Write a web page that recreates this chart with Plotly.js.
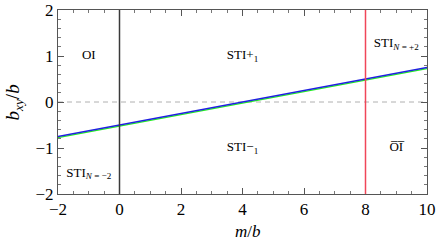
<!DOCTYPE html>
<html>
<head>
<meta charset="utf-8">
<script src="https://cdn.plot.ly/plotly-3.0.1.min.js"></script>
<style>html,body{margin:0;padding:0;background:#fff;}#chart{width:436px;height:246px;}</style>
</head>
<body>
<div id="chart"></div>
<script>
// Data
const mValues = [-2, 10];
const bxyBlue = [-0.75, 0.75];
const bxyGreen = [-0.775, 0.725];
const boundaryM = [0, 8];
const boundaryColors = ['#3a3a3a', '#f04658'];
const labelText = ['OI', 'STI+<sub>1</sub>', 'STI<sub><i>N</i> = +2</sub>', 'STI−<sub>1</sub>', 'O̅I̅', 'STI<sub><i>N</i> = −2</sub>'];
const labelM = [-1, 4, 9, 4, 9, -1];
const labelB = [1, 1, 1.27, -1, -1, -1.55];
const xTicks = [-2, 0, 2, 4, 6, 8, 10];
const xTickText = ['−2', '0', '2', '4', '6', '8', '10'];
const yTicks = [-2, -1, 0, 1, 2];
const yTickText = ['−2', '−1', '0', '1', '2'];
const xTitle = '<i>m</i>/<i>b</i>';
const yTitle = '<i>b<sub>xy</sub></i>/<i>b</i>';

const serif = 'Liberation Serif';
const traces = [
  {x: mValues, y: bxyGreen, mode: 'lines', line: {color: '#22ee22', width: 1.4}, hoverinfo: 'skip'},
  {x: mValues, y: bxyBlue, mode: 'lines', line: {color: '#2020e0', width: 1.4}, hoverinfo: 'skip'},
  {x: labelM, y: labelB, mode: 'text', text: labelText, textposition: 'middle center',
   textfont: {family: serif, size: 13, color: '#000'}, hoverinfo: 'skip'}
];

const shapes = boundaryM.map((m, i) => ({
  type: 'line', xref: 'x', yref: 'paper', x0: m, x1: m, y0: 0, y1: 1,
  line: {color: boundaryColors[i], width: 1.5}
}));
shapes.push({type: 'line', xref: 'paper', yref: 'y', x0: 0, x1: 1, y0: 0, y1: 0,
  line: {color: '#b0b0b0', width: 1, dash: '5px,4px'}, layer: 'below'});

const axisFont = {family: serif, size: 17, color: '#000'};
const layout = {
  width: 436, height: 246,
  font: {family: serif, size: 17, color: '#000'},
  margin: {l: 58, r: 9, t: 10, b: 52},
  paper_bgcolor: '#fff', plot_bgcolor: '#fff',
  showlegend: false,
  shapes: shapes,
  annotations: [
    {text: xTitle, xref: 'paper', yref: 'paper', x: 0.515, y: -0.205, xanchor: 'center', yanchor: 'middle',
     showarrow: false, font: {family: serif, size: 17, color: '#000'}},
    {text: yTitle, xref: 'paper', yref: 'paper', x: -0.118, y: 0.5, xanchor: 'center', yanchor: 'middle',
     textangle: -90, showarrow: false, font: {family: serif, size: 19, color: '#000'}}
  ],
  xaxis: {
    range: [-2, 10], tickvals: xTicks, ticktext: xTickText,
    ticks: 'inside', ticklen: 6, tickcolor: '#555', tickwidth: 1,
    showline: true, linecolor: '#555', linewidth: 1, mirror: 'ticks',
    showgrid: false, zeroline: false, automargin: false,
    tickfont: axisFont,
    minor: {dtick: 0.5, ticks: 'inside', ticklen: 3, tickcolor: '#777', showgrid: false}
  },
  yaxis: {
    range: [-2, 2], tickvals: yTicks, ticktext: yTickText,
    ticks: 'inside', ticklen: 6, tickcolor: '#555', tickwidth: 1,
    showline: true, linecolor: '#555', linewidth: 1, mirror: 'ticks',
    showgrid: false, zeroline: false, automargin: false,
    tickfont: axisFont,
    minor: {dtick: 0.2, ticks: 'inside', ticklen: 3, tickcolor: '#777', showgrid: false}
  }
};

Plotly.newPlot('chart', traces, layout, {staticPlot: true, displayModeBar: false});
</script>
</body>
</html>
